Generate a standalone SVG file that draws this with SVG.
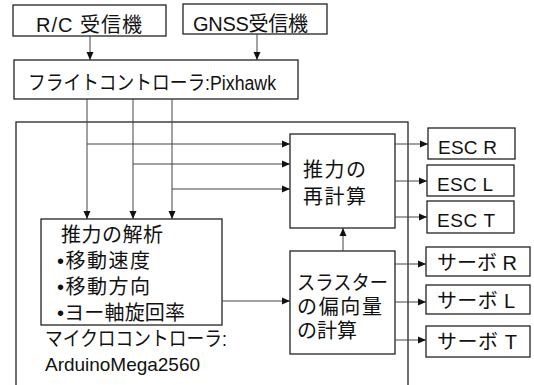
<svg xmlns="http://www.w3.org/2000/svg" width="534" height="385" viewBox="0 0 534 385">
<defs>
<style>
.box{fill:#fff;stroke:#222;stroke-width:1.3}
.ln{fill:none;stroke:#444;stroke-width:1}
.t{font-family:"Liberation Sans","Noto Sans CJK JP",sans-serif;font-size:20px;fill:#111}
.tl{font-family:"Liberation Sans","Noto Sans CJK JP",sans-serif;font-size:19px;fill:#111}
</style>
<marker id="ah" viewBox="0 0 8 8" refX="8" refY="4" markerWidth="8" markerHeight="8" markerUnits="userSpaceOnUse" orient="auto">
<path d="M0,0.5 L8,4 L0,7.5 Z" fill="#111"/>
</marker>
</defs>
<rect width="534" height="385" fill="#fff"/>
<g id="mcu">
<rect class="box" x="16" y="122" width="392" height="280"/>
<text class="t" x="45" y="346" font-size="19" textLength="182" lengthAdjust="spacingAndGlyphs">マイクロコントローラ:</text>
<text class="tl" x="45" y="371" textLength="155">ArduinoMega2560</text>
</g>
<g id="rc"><rect class="box" x="13" y="5" width="153" height="31"/><text class="t" x="36" y="32" textLength="106">R/C 受信機</text></g>
<g id="gnss"><rect class="box" x="183" y="4" width="144" height="30"/><text class="t" x="193" y="31" textLength="115">GNSS受信機</text></g>
<g id="fc"><rect class="box" x="14" y="60" width="284" height="39"/><text class="t" x="28" y="90" font-size="19" textLength="248" lengthAdjust="spacingAndGlyphs">フライトコントローラ:Pixhawk</text></g>
<g id="analysis"><rect class="box" x="41" y="219" width="181" height="106"/>
<text class="t" x="61" y="242" textLength="102">推力の解析</text>
<text class="t" x="57" y="268" textLength="93">•移動速度</text>
<text class="t" x="57" y="294" textLength="93">•移動方向</text>
<text class="t" x="57" y="320" textLength="128">•ヨー軸旋回率</text></g>
<g id="recalc"><rect class="box" x="290" y="134" width="105" height="94"/>
<text class="t" x="303" y="177" font-size="21" textLength="63">推力の</text>
<text class="t" x="303" y="204" font-size="21" textLength="63">再計算</text></g>
<g id="thruster"><rect class="box" x="290" y="251" width="105" height="103"/>
<text class="t" x="297" y="290" textLength="91" lengthAdjust="spacingAndGlyphs">スラスター</text>
<text class="t" x="297" y="314" textLength="85">の偏向量</text>
<text class="t" x="297" y="338" textLength="60">の計算</text></g>
<g id="escR"><rect class="box" x="428" y="128" width="87" height="31"/><text class="tl" x="438" y="154" textLength="59">ESC R</text></g>
<g id="escL"><rect class="box" x="427" y="165" width="87" height="31"/><text class="tl" x="437" y="191" textLength="56">ESC L</text></g>
<g id="escT"><rect class="box" x="427" y="201" width="87" height="32"/><text class="tl" x="437" y="227" textLength="58">ESC T</text></g>
<g id="servoR"><rect class="box" x="426" y="247" width="104" height="29"/><text class="t" x="437" y="270" textLength="80">サーボ R</text></g>
<g id="servoL"><rect class="box" x="426" y="285" width="104" height="29"/><text class="t" x="437" y="308" textLength="78">サーボ L</text></g>
<g id="servoT"><rect class="box" x="426" y="326" width="104" height="31"/><text class="t" x="437" y="349" textLength="80">サーボ T</text></g>
<g id="connectors">
<path class="ln" d="M90,36 V60" marker-end="url(#ah)"/>
<path class="ln" d="M257,34 V60" marker-end="url(#ah)"/>
<path class="ln" d="M87,99 V219" marker-end="url(#ah)"/>
<path class="ln" d="M133,99 V219" marker-end="url(#ah)"/>
<path class="ln" d="M172,99 V219" marker-end="url(#ah)"/>
<path class="ln" d="M87,144 H290" marker-end="url(#ah)"/>
<path class="ln" d="M133,164 H290" marker-end="url(#ah)"/>
<path class="ln" d="M172,189 H290" marker-end="url(#ah)"/>
<path class="ln" d="M222,301 H290" marker-end="url(#ah)"/>
<path class="ln" d="M343,251 V228" marker-end="url(#ah)"/>
<path class="ln" d="M395,144 H428" marker-end="url(#ah)"/>
<path class="ln" d="M395,181 H427" marker-end="url(#ah)"/>
<path class="ln" d="M395,217 H427" marker-end="url(#ah)"/>
<path class="ln" d="M395,264 H426" marker-end="url(#ah)"/>
<path class="ln" d="M395,302 H426" marker-end="url(#ah)"/>
<path class="ln" d="M395,340 H426" marker-end="url(#ah)"/>
</g>
</svg>
